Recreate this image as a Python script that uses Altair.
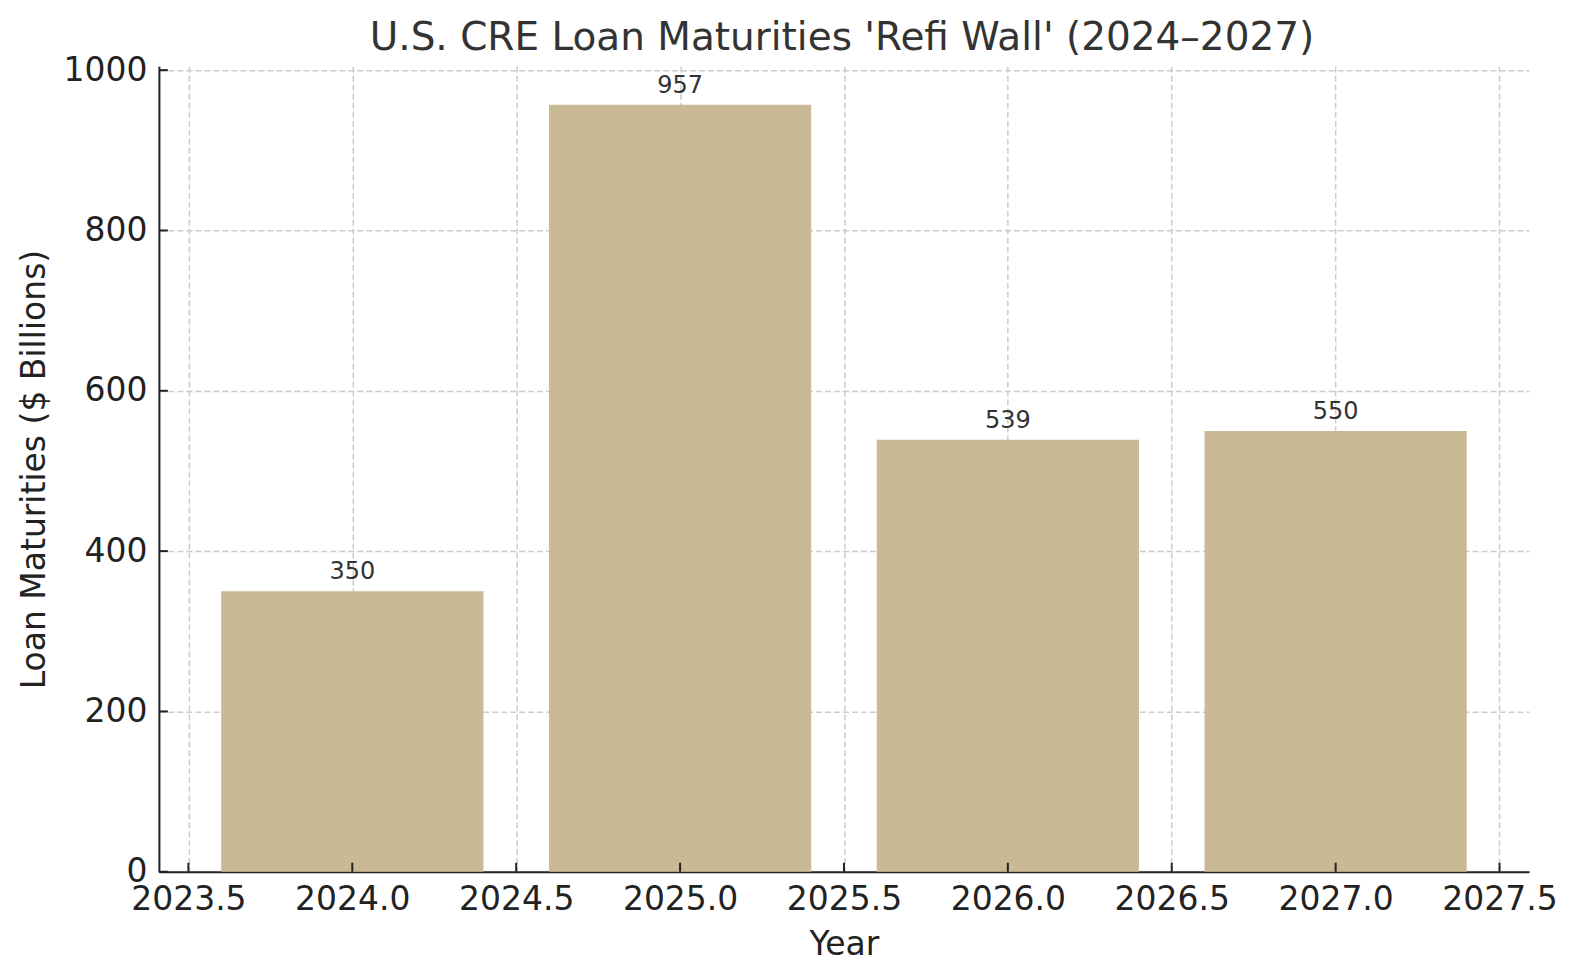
import altair as alt
import pandas as pd

years = [2024, 2025, 2026, 2027]
values = [350, 957, 539, 550]
x_ticks = [2023.5, 2024.0, 2024.5, 2025.0, 2025.5, 2026.0, 2026.5, 2027.0, 2027.5]
y_ticks = [0, 200, 400, 600, 800, 1000]
TITLE = "U.S. CRE Loan Maturities 'Refi Wall' (2024\u20132027)"

FONT = "DejaVu Sans"
W, H = 1371, 806

df = pd.DataFrame({"Year": years, "Value": values})
xt = pd.DataFrame({"t": x_ticks})
yt = pd.DataFrame({"t": y_ticks})

xscale = alt.Scale(domain=[2023.41, 2027.59], nice=False, zero=False)
yscale = alt.Scale(domain=[0, 1004.85], nice=False, zero=False)

XTITLE = "Year"
YTITLE = "Loan Maturities ($ Billions)"
xaxis = alt.Axis(values=x_ticks, format=".1f", titleY=83,
                 titleBaseline="alphabetic", labelPadding=12)
yaxis = alt.Axis(values=y_ticks, format="d", titleX=-114,
                 titleBaseline="alphabetic", labelPadding=12)

bars = alt.Chart(df).transform_calculate(
    x0="datum.Year - 0.4", x1="datum.Year + 0.4"
).mark_rect(color="#CAB995").encode(
    x=alt.X("x0:Q", scale=xscale, title=XTITLE, axis=xaxis),
    x2="x1:Q",
    y=alt.Y("Value:Q", scale=yscale, title=YTITLE, axis=yaxis),
    y2=alt.datum(0),
)

labels = alt.Chart(df).mark_text(
    font=FONT, fontSize=24, color="#333333", baseline="alphabetic", dy=-12
).encode(
    x=alt.X("Year:Q", scale=xscale, title=XTITLE, axis=xaxis),
    y=alt.Y("Value:Q", scale=yscale, title=YTITLE, axis=yaxis),
    text=alt.Text("Value:Q", format="d"),
)

xtick_marks = alt.Chart(xt).mark_rule(color="#222222", strokeWidth=2).encode(
    x=alt.X("t:Q", scale=xscale, title=XTITLE, axis=xaxis),
    y=alt.value(H),
    y2=alt.value(H - 9),
)
ytick_marks = alt.Chart(yt).mark_rule(color="#222222", strokeWidth=2).encode(
    y=alt.Y("t:Q", scale=yscale, title=YTITLE, axis=yaxis),
    x=alt.value(0),
    x2=alt.value(9),
)

title_mark = alt.Chart(pd.DataFrame({"title": [TITLE]})).mark_text(
    font=FONT, fontSize=39, color="#333333", baseline="alphabetic", align="center"
).encode(
    x=alt.value(W / 2 - 2),
    y=alt.value(-16),
    text="title:N",
)

chart = alt.layer(bars, labels, xtick_marks, ytick_marks, title_mark).properties(
    width=W,
    height=H,
    autosize=alt.AutoSizeParams(type="none"),
    padding={"left": 151, "top": 58, "right": 40, "bottom": 100},
).configure_view(stroke=None).configure_axis(
    labelFont=FONT, labelFontSize=33, labelColor="#222222",
    titleFont=FONT, titleFontSize=33, titleColor="#222222", titleFontWeight="normal",
    domainColor="#222222", domainWidth=2,
    ticks=False,
    grid=True, gridColor="#cccccc", gridDash=[6, 3], gridWidth=1.5,
    labelFlush=False, labelOverlap=False, labelBound=False,
    zindex=1,
)

chart.save("out.html", embed_options={"renderer": "svg", "actions": False})
